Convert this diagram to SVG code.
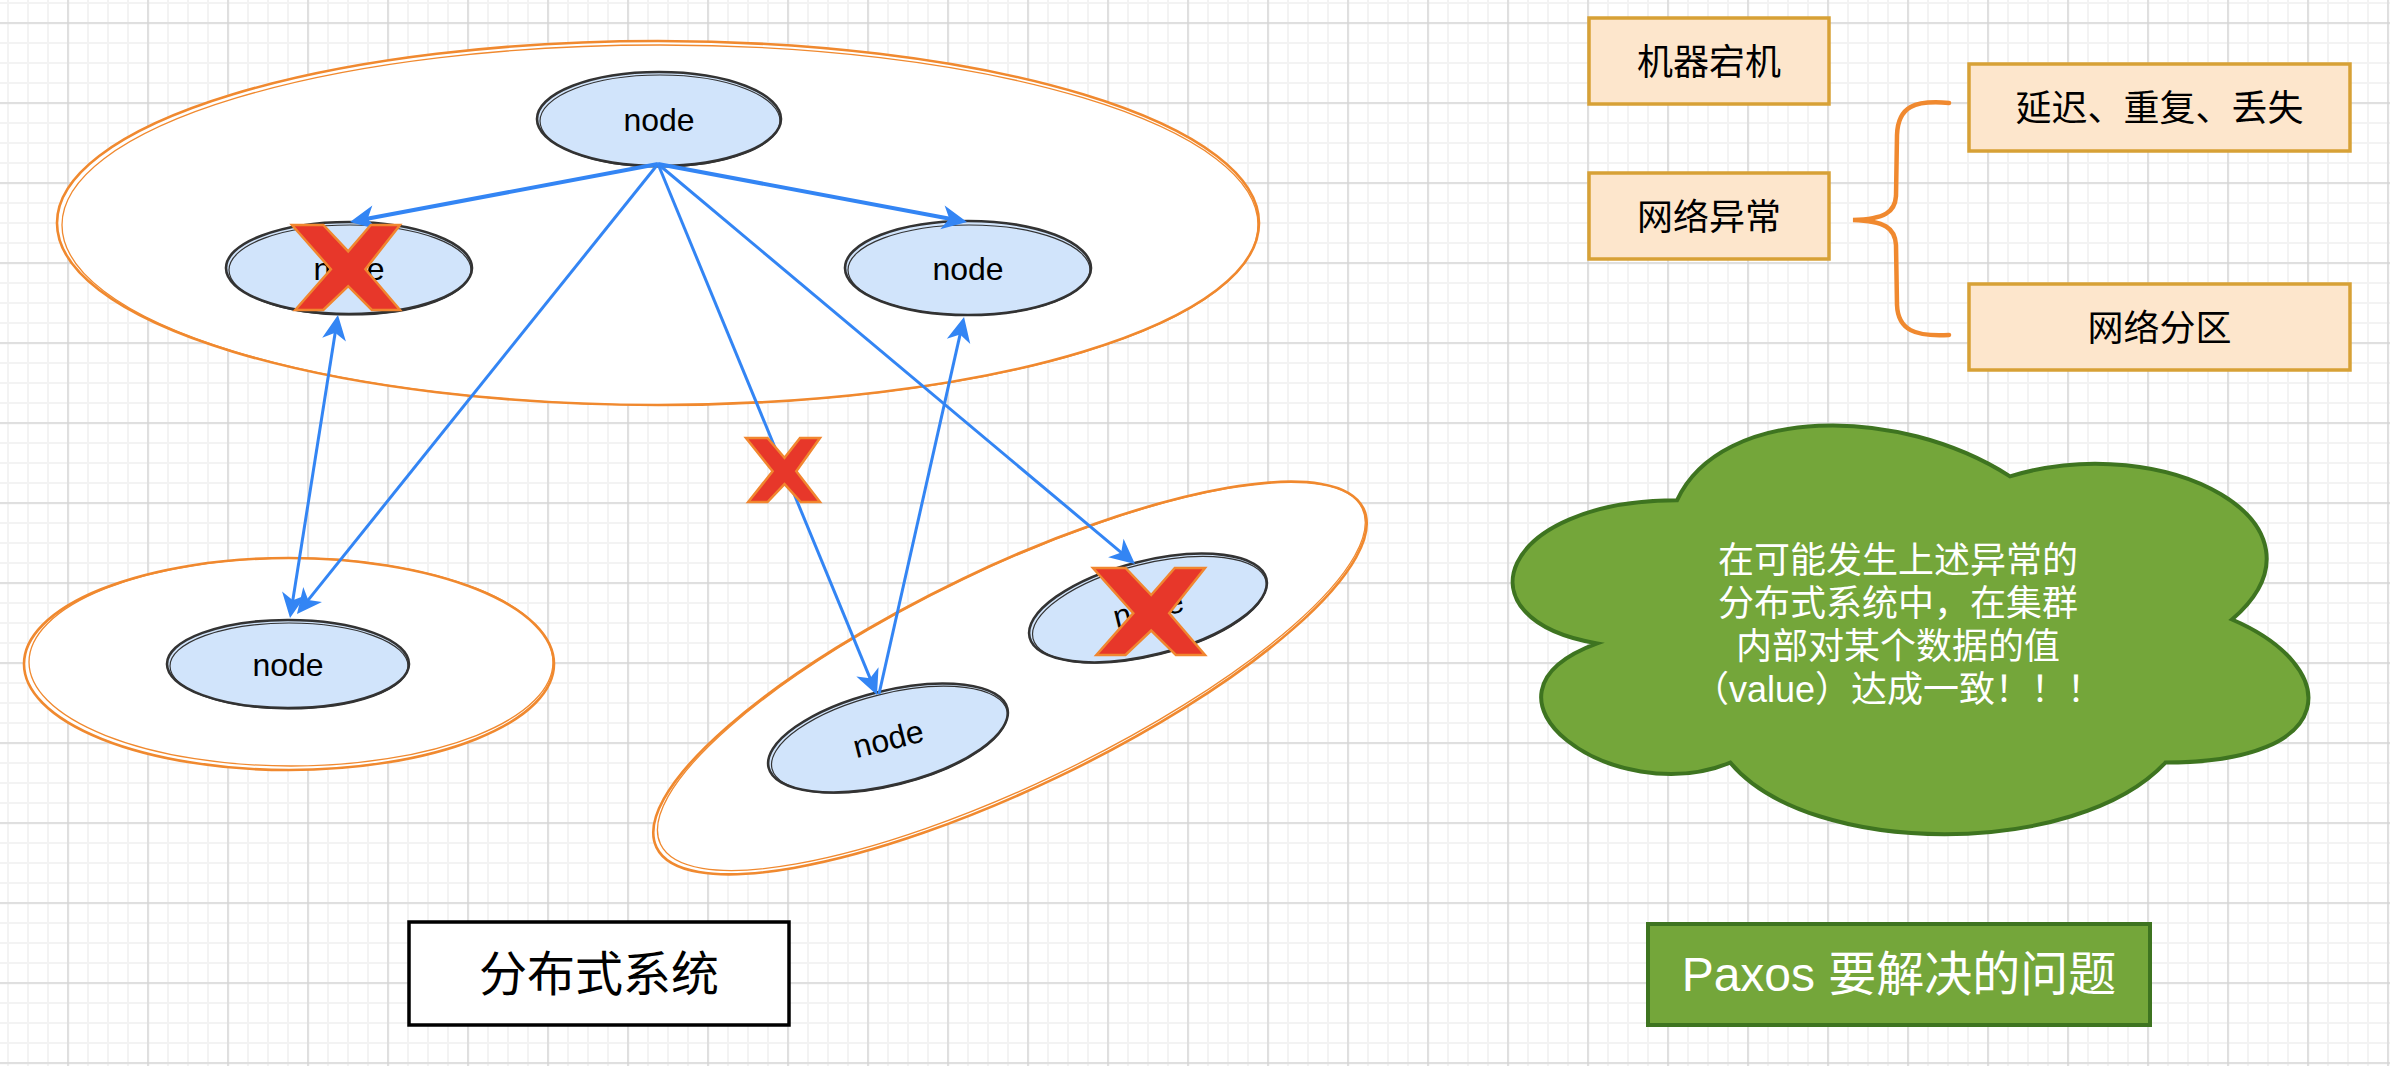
<svg xmlns="http://www.w3.org/2000/svg" width="2390" height="1066" viewBox="0 0 2390 1066">
<style>
.cont{fill:#ffffff;stroke:#f0892f;stroke-width:2.6}
.cont2{fill:none;stroke:#f0892f;stroke-width:1.3}
.nd{fill:#d1e4fb;stroke:#333333;stroke-width:2.6}
.nd2{fill:none;stroke:#333333;stroke-width:1.2}
.nt{font-family:"Liberation Sans",Arial,sans-serif;font-size:32px;fill:#000000;text-anchor:middle}
.edge{fill:none;stroke:#3385f4;stroke-width:3}
.edgeb{fill:none;stroke:#3385f4;stroke-width:4}
.xm{fill:#e7372a;stroke:#f1862f;stroke-width:2.5;stroke-linejoin:miter}
.box{fill:#fde6cc;stroke:#d7a136;stroke-width:3.5}
.bt{font-family:"Noto Sans CJK SC",sans-serif;font-size:36px;fill:#000000;text-anchor:middle}
.green{fill:#74a63a;stroke:#3e7420;stroke-width:4}
.wt{font-family:"Liberation Sans","Noto Sans CJK SC",sans-serif;fill:#ffffff;text-anchor:middle}
</style>
<defs>
<pattern id="gmin" x="7" y="2" width="20" height="20" patternUnits="userSpaceOnUse">
<rect x="0" y="0" width="2" height="20" fill="#f3f3f3"/>
<rect x="0" y="0" width="20" height="2" fill="#f3f3f3"/>
</pattern>
<pattern id="gmaj" x="67.4" y="22.4" width="80" height="80" patternUnits="userSpaceOnUse">
<rect x="0" y="0" width="1.3" height="80" fill="#d2d2d2"/>
<rect x="0" y="0" width="80" height="1.3" fill="#d2d2d2"/>
</pattern>
<marker id="arr" viewBox="-28 -14 30 28" markerWidth="30" markerHeight="28" refX="-12" refY="0" markerUnits="userSpaceOnUse" orient="auto-start-reverse">
<path d="M0,0 L-25,-12 L-18,0 L-25,12 Z" fill="#3385f4"/>
</marker>
</defs>
<rect x="0" y="0" width="2390" height="1066" fill="#ffffff"/>
<rect x="0" y="0" width="2390" height="1066" fill="url(#gmin)"/>
<rect x="0" y="0" width="2390" height="1066" fill="url(#gmaj)"/>

<g id="cluster-top">
<ellipse class="cont" cx="658" cy="223" rx="601" ry="182"/>
<ellipse class="cont2" cx="660" cy="225" rx="598" ry="180"/>
</g>
<g id="cluster-left">
<ellipse class="cont" cx="289" cy="664" rx="265" ry="106"/>
<ellipse class="cont2" cx="291" cy="662" rx="262" ry="104"/>
</g>
<g id="cluster-right">
<ellipse class="cont" cx="1010" cy="678" rx="392" ry="110" transform="rotate(-25.6 1010 678)"/>
<ellipse class="cont2" cx="1012" cy="677" rx="389" ry="108" transform="rotate(-25.6 1010 678)"/>
</g>

<g id="node-top">
<ellipse class="nd" cx="659" cy="119" rx="122" ry="47"/>
<ellipse class="nd2" cx="660" cy="121" rx="120" ry="46"/>
<text class="nt" x="659" y="131">node</text>
</g>
<g id="node-top-left">
<ellipse class="nd" cx="349" cy="268" rx="123" ry="46"/>
<ellipse class="nd2" cx="350" cy="270" rx="121" ry="45"/>
<text class="nt" x="349" y="280">node</text>
</g>
<g id="node-top-right">
<ellipse class="nd" cx="968" cy="268" rx="123" ry="47"/>
<ellipse class="nd2" cx="969" cy="270" rx="121" ry="45"/>
<text class="nt" x="968" y="280">node</text>
</g>
<g id="node-bottom-left">
<ellipse class="nd" cx="288" cy="664" rx="121" ry="44"/>
<ellipse class="nd2" cx="289" cy="666" rx="119" ry="43"/>
<text class="nt" x="288" y="676">node</text>
</g>
<g id="node-bottom-right">
<ellipse class="nd" cx="888" cy="738" rx="123" ry="47" transform="rotate(-14 888 738)"/>
<ellipse class="nd2" cx="889" cy="740" rx="121" ry="46" transform="rotate(-14 888 738)"/>
<text class="nt" x="888" y="750" transform="rotate(-14 888 738)">node</text>
</g>
<g id="node-right-failed">
<ellipse class="nd" cx="1148" cy="608" rx="122" ry="47" transform="rotate(-14 1148 608)"/>
<ellipse class="nd2" cx="1149" cy="610" rx="120" ry="46" transform="rotate(-14 1148 608)"/>
<text class="nt" x="1148" y="620" transform="rotate(-14 1148 608)">node</text>
</g>

<g id="connectors">
<line class="edgeb" x1="658" y1="164" x2="361.8" y2="219.8" marker-end="url(#arr)"/>
<line class="edgeb" x1="658" y1="164" x2="955.2" y2="219.8" marker-end="url(#arr)"/>
<line class="edge" x1="658" y1="164" x2="304.5" y2="604.6" marker-end="url(#arr)"/>
<line class="edge" x1="658" y1="164" x2="872.4" y2="683.9" marker-end="url(#arr)"/>
<line class="edge" x1="879" y1="694" x2="961.4" y2="328.7" marker-end="url(#arr)"/>
<line class="edge" x1="658" y1="164" x2="1125.8" y2="556.3" marker-end="url(#arr)"/>
<line class="edge" x1="336.1" y1="326.9" x2="291.9" y2="606.1" marker-start="url(#arr)" marker-end="url(#arr)"/>
</g>

<g id="x-top-left">
<polygon class="xm" points="292,225 323.3,225 348.2,251.4 370.8,225 400,225 365.4,269.2 400,310 371.9,310 348.2,286.2 323.3,310 295.2,310 330.9,269.2"/>
</g>
<g id="x-middle">
<polygon class="xm" points="746,438 767.5,438 784.5,457.8 800,438 820,438 796.3,471.3 820,502 800.8,502 784.5,484.1 767.5,502 748.2,502 772.6,471.3"/>
</g>
<g id="x-right">
<polygon class="xm" points="1093,568 1125.5,568 1151.2,595 1174.8,568 1205,568 1169.2,613.2 1205,655 1175.9,655 1151.2,630.6 1125.5,655 1096.4,655 1133.3,613.2"/>
</g>

<g id="label-distributed">
<rect x="409" y="922" width="380" height="103" fill="#ffffff" stroke="#000000" stroke-width="3.5"/>
<text class="bt" x="599" y="991" style="font-size:48px">分布式系统</text>
</g>

<g id="box-crash">
<rect class="box" x="1589" y="18" width="240" height="86"/>
<text class="bt" x="1709" y="75">机器宕机</text>
</g>
<g id="box-network">
<rect class="box" x="1589" y="173" width="240" height="86"/>
<text class="bt" x="1709" y="230">网络异常</text>
</g>
<g id="box-delay">
<rect class="box" x="1969" y="64" width="381" height="87"/>
<text class="bt" x="2159.5" y="121">延迟、重复、丢失</text>
</g>
<g id="box-partition">
<rect class="box" x="1969" y="284" width="381" height="86"/>
<text class="bt" x="2159.5" y="341">网络分区</text>
</g>
<g id="brace">
<path d="M1949,103 C1915,100 1898,106 1897,135 L1896,196 C1895,212 1885,219 1853,220 C1885,221 1895,228 1896,245 L1897,305 C1898,330 1915,337 1949,335" fill="none" stroke="#f0892f" stroke-width="4.5" stroke-linecap="round"/>
</g>

<g id="cloud">
<path class="green" d="M1677,500.3 C1499.4,500.3 1455,619.5 1597.1,643.4 C1455,695.8 1614.8,810.3 1730.3,762.6 C1810.2,858 2076.6,858 2165.4,762.6 C2343,762.6 2343,667.2 2232,619.5 C2343,524.1 2165.4,428.7 2010,476.4 C1899,404.9 1721.4,404.9 1677,500.3 Z"/>
<text class="wt" style="font-size:36px" x="1898" y="573">在可能发生上述异常的</text>
<text class="wt" style="font-size:36px" x="1898" y="616">分布式系统中，在集群</text>
<text class="wt" style="font-size:36px" x="1898" y="659">内部对某个数据的值</text>
<text class="wt" style="font-size:36px" x="1898" y="702">（value）达成一致！！！</text>
</g>

<g id="label-paxos">
<rect class="green" x="1648" y="924" width="502" height="101"/>
<text class="wt" style="font-size:48px" x="1899" y="991">Paxos 要解决的问题</text>
</g>
</svg>
